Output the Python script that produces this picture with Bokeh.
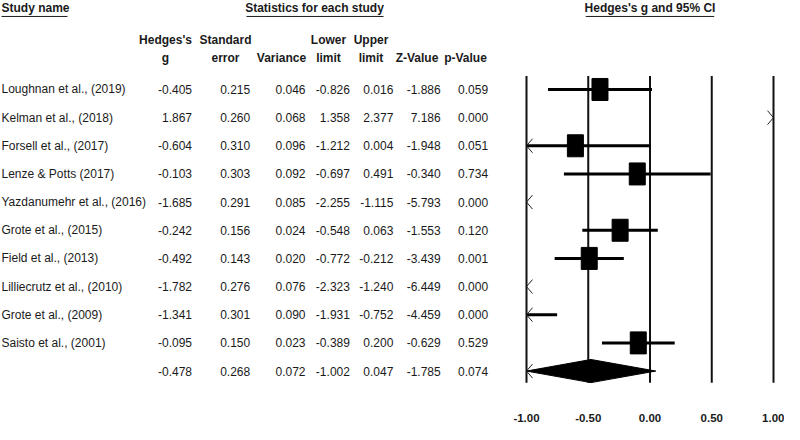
from bokeh.plotting import figure
from bokeh.layouts import row
from bokeh.models import Range1d, FixedTicker, NumeralTickFormatter
from bokeh.core.properties import value
from bokeh.embed import file_html
from bokeh.resources import INLINE

# ---------------- data ----------------
studies = ["Loughnan et al., (2019)", "Kelman et al., (2018)", "Forsell et al., (2017)",
           "Lenze & Potts (2017)", "Yazdanumehr et al., (2016)", "Grote et al., (2015)",
           "Field et al., (2013)", "Lilliecrutz et al., (2010)", "Grote et al., (2009)",
           "Saisto et al., (2001)"]
hedges_g = [-0.405, 1.867, -0.604, -0.103, -1.685, -0.242, -0.492, -1.782, -1.341, -0.095]
std_err = [0.215, 0.260, 0.310, 0.303, 0.291, 0.156, 0.143, 0.276, 0.301, 0.150]
variance = [0.046, 0.068, 0.096, 0.092, 0.085, 0.024, 0.020, 0.076, 0.090, 0.023]
lower = [-0.826, 1.358, -1.212, -0.697, -2.255, -0.548, -0.772, -2.323, -1.931, -0.389]
upper = [0.016, 2.377, 0.004, 0.491, -1.115, 0.063, -0.212, -1.240, -0.752, 0.200]
z_value = [-1.886, 7.186, -1.948, -0.340, -5.793, -1.553, -3.439, -6.449, -4.459, -0.629]
p_value = [0.059, 0.000, 0.051, 0.734, 0.000, 0.120, 0.001, 0.000, 0.000, 0.529]

summary = {"g": -0.478, "se": 0.268, "var": 0.072, "lower": -1.002, "upper": 0.047,
           "z": -1.785, "p": 0.074}

col_head1 = ["Hedges's", "Standard", "", "Lower", "Upper", "", ""]
col_head2 = ["g", "error", "Variance", "limit", "limit", "Z-Value", "p-Value"]
axis_ticks = [-1.0, -0.5, 0.0, 0.5, 1.0]
x_min, x_max = -1.0, 1.0

# ---------------- layout constants ----------------
FONT = "Liberation Sans"
TOTAL_W, TOTAL_H = 784, 424
W_LEFT = 500
W_RIGHT = TOTAL_W - W_LEFT
BOTTOM = 34
FRAME_H = TOTAL_H - BOTTOM
ROW0, DY = 89.2, 28.23
TITLE_Y, ULINE_Y = 8, 16
HEAD1_Y, HEAD2_Y = 40, 58
LINE_TOP, LINE_BOT = 75.7, 383.2

col_right = [191.5, 249.7, 305.0, 349.4, 392.8, 440.2, 487.6]
col_center = [165.0, 225.0, 281.0, 328.0, 370.5, 416.5, 465.0]

ys = [ROW0 + i * DY for i in range(len(studies) + 1)]
ys_st = ys[:-1]
y_sum = ys[-1]

yr = Range1d(start=FRAME_H, end=0)

# ---------------- left table ----------------
left = figure(width=W_LEFT, height=TOTAL_H, x_range=Range1d(0, W_LEFT), y_range=yr,
              output_backend="svg", toolbar_location=None,
              x_axis_location=None, y_axis_location=None,
              min_border_left=0, min_border_right=0, min_border_top=0,
              min_border_bottom=BOTTOM)
left.xgrid.visible = False
left.ygrid.visible = False
left.outline_line_color = None

TXT = "#1a1a1a"
reg = dict(text_font=value(FONT), text_font_size="12px", text_color=TXT,
           text_baseline="middle")
bold = dict(text_font=value(FONT), text_font_size="12px", text_color=TXT,
            text_font_style="bold", text_baseline="middle")

left.text(x=[1], y=[TITLE_Y], text=["Study name"], text_align="left", **bold)
left.segment(x0=[1], y0=[ULINE_Y], x1=[67], y1=[ULINE_Y], line_color=TXT, line_width=1)
left.text(x=[314], y=[TITLE_Y], text=["Statistics for each study"], text_align="center", **bold)
left.segment(x0=[246], y0=[ULINE_Y], x1=[383], y1=[ULINE_Y], line_color=TXT, line_width=1)

left.text(x=col_center, y=[HEAD1_Y] * len(col_head1), text=col_head1, text_align="center", **bold)
left.text(x=col_center, y=[HEAD2_Y] * len(col_head2), text=col_head2, text_align="center", **bold)

left.text(x=[1] * len(studies), y=ys_st, text=studies, text_align="left", **reg)

columns = [hedges_g, std_err, variance, lower, upper, z_value, p_value]
sum_vals = [summary["g"], summary["se"], summary["var"], summary["lower"], summary["upper"],
            summary["z"], summary["p"]]
for xr, vals, sv in zip(col_right, columns, sum_vals):
    txt = ["%.3f" % v for v in vals] + ["%.3f" % sv]
    left.text(x=[xr] * len(txt), y=ys, text=txt, text_align="right", **reg)

# ---------------- right forest plot ----------------
PX = (W_RIGHT - 26 - 11) / (x_max - x_min)
xr0 = x_min - 26 / PX
xr1 = x_max + 11 / PX
right = figure(width=W_RIGHT, height=TOTAL_H, x_range=Range1d(xr0, xr1), y_range=yr,
               output_backend="svg", toolbar_location=None, y_axis_location=None,
               min_border_left=0, min_border_right=0, min_border_top=0,
               min_border_bottom=BOTTOM)
right.xgrid.visible = False
right.ygrid.visible = False
right.outline_line_color = None

right.text(x=[0], y=[TITLE_Y], text=["Hedges's g and 95% CI"], text_align="center", **bold)
right.segment(x0=[-0.52], y0=[ULINE_Y], x1=[0.52], y1=[ULINE_Y], line_color=TXT, line_width=1)

# vertical reference lines
right.segment(x0=axis_ticks, y0=[LINE_TOP] * len(axis_ticks), x1=axis_ticks,
              y1=[LINE_BOT] * len(axis_ticks), line_color="#111111", line_width=2)

# CI lines (clipped) and chevrons where clipped
seg_x0, seg_x1, seg_y = [], [], []
chev_xs, chev_ys = [], []
AX = 6 / PX
AY = 7
for lo, hi, y in zip(lower, upper, ys_st):
    a, b = max(lo, x_min), min(hi, x_max)
    if a < b:
        seg_x0.append(a); seg_x1.append(b); seg_y.append(y)
    if lo < x_min:
        chev_xs.append([x_min + AX, x_min, x_min + AX]); chev_ys.append([y - AY, y, y + AY])
    if hi > x_max:
        chev_xs.append([x_max - AX, x_max, x_max - AX]); chev_ys.append([y - AY, y, y + AY])

right.segment(x0=seg_x0, y0=seg_y, x1=seg_x1, y1=seg_y, line_color="black", line_width=3)

# squares
sq = [(g, y) for g, y in zip(hedges_g, ys_st) if x_min <= g <= x_max]
right.rect(x=[s[0] for s in sq], y=[s[1] for s in sq], width=16, height=22,
           width_units="screen", height_units="screen", fill_color="black", line_color="black")

# summary diamond
sl = max(summary["lower"], x_min)
su = min(summary["upper"], x_max)
H = 11.6
right.patch(x=[sl, summary["g"], su, summary["g"]], y=[y_sum, y_sum - H, y_sum, y_sum + H],
            fill_color="black", line_color="black", line_width=1)
if summary["lower"] < x_min:
    chev_xs.append([x_min + AX, x_min, x_min + AX]); chev_ys.append([y_sum - AY, y_sum, y_sum + AY])

right.multi_line(xs=chev_xs, ys=chev_ys, line_color="#222222", line_width=1)

ax = right.xaxis[0]
ax.ticker = FixedTicker(ticks=axis_ticks)
ax.formatter = NumeralTickFormatter(format="0.00")
ax.axis_line_color = None
ax.major_tick_line_color = None
ax.minor_tick_line_color = None
ax.major_label_standoff = 18
ax.major_label_text_font = FONT
ax.major_label_text_font_size = "11.5px"
ax.major_label_text_font_style = "bold"
ax.major_label_text_color = TXT

layout = row(left, right)
open("out.html", "w").write(file_html(layout, INLINE))
